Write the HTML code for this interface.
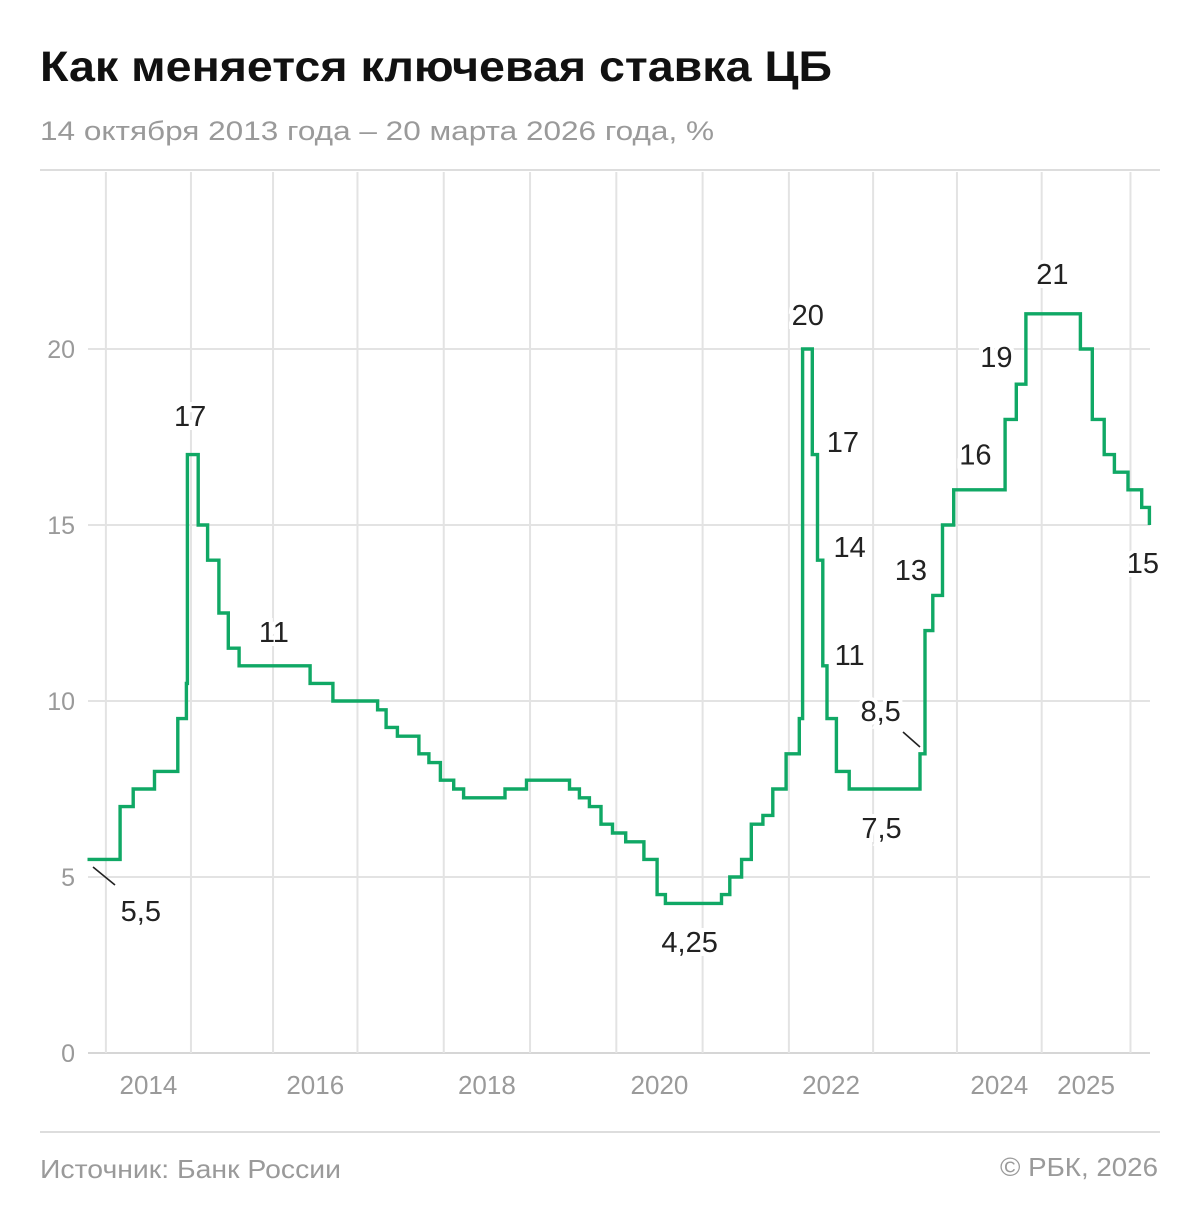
<!DOCTYPE html>
<html><head><meta charset="utf-8">
<style>
body{margin:0;background:#fff;width:1200px;height:1225px;overflow:hidden;font-family:"Liberation Sans",sans-serif}
svg{position:absolute;left:0;top:0}
</style></head>
<body>
<svg id="chart" width="1200" height="1225">
<text x="40" y="81" font-size="43" font-weight="bold" fill="#111" textLength="792" lengthAdjust="spacingAndGlyphs">Как меняется ключевая ставка ЦБ</text>
<text x="40" y="140" font-size="27" fill="#9a9a9a" textLength="674" lengthAdjust="spacingAndGlyphs">14 октября 2013 года – 20 марта 2026 года, %</text>
<line x1="40" x2="1160" y1="170" y2="170" stroke="#ddd" stroke-width="2"/>
<line x1="40" x2="1160" y1="1132" y2="1132" stroke="#ddd" stroke-width="2"/>
<g id="grid"></g><g id="ticks"></g><g id="line"></g><g id="labels"></g>
<text x="40" y="1178" font-size="26" fill="#9a9a9a" textLength="301" lengthAdjust="spacingAndGlyphs">Источник: Банк России</text>
<text x="1000" y="1176" font-size="26" fill="#9a9a9a" textLength="158" lengthAdjust="spacingAndGlyphs">© РБК, 2026</text>
</svg>
<script>
const dates=["2013-10-14","2014-03-03","2014-04-28","2014-07-28","2014-11-05","2014-12-12","2014-12-16","2015-02-02","2015-03-16","2015-05-05","2015-06-16","2015-08-03","2016-06-14","2016-09-19","2017-03-27","2017-05-02","2017-06-19","2017-09-18","2017-10-30","2017-12-18","2018-02-12","2018-03-26","2018-09-17","2018-12-17","2019-06-17","2019-07-29","2019-09-09","2019-10-28","2019-12-16","2020-02-10","2020-04-27","2020-06-22","2020-07-27","2021-03-22","2021-04-26","2021-06-15","2021-07-26","2021-09-13","2021-10-25","2021-12-20","2022-02-14","2022-02-28","2022-04-11","2022-05-04","2022-05-27","2022-06-14","2022-07-25","2022-09-19","2023-07-24","2023-08-15","2023-09-18","2023-10-30","2023-12-18","2024-07-29","2024-09-16","2024-10-28","2025-06-09","2025-07-28","2025-09-15","2025-10-27","2025-12-22","2026-02-16","2026-03-20"];
const rates=[5.5,7,7.5,8,9.5,10.5,17,15,14,12.5,11.5,11,10.5,10,9.75,9.25,9,8.5,8.25,7.75,7.5,7.25,7.5,7.75,7.5,7.25,7,6.5,6.25,6,5.5,4.5,4.25,4.5,5,5.5,6.5,6.75,7.5,8.5,9.5,20,17,14,11,9.5,8,7.5,8.5,12,13,15,16,18,19,21,20,18,17,16.5,16,15.5,15];
const endDate="2026-03-20";
const yTicks=[0,5,10,15,20];
const gridYears=[2014,2015,2016,2017,2018,2019,2020,2021,2022,2023,2024,2025,2026];
const yearLabels=[2014,2016,2018,2020,2022,2024,2025];
const annText=["17","11","5,5","4,25","20","17","14","11","8,5","7,5","13","16","19","21","15"];
const annYear=[2014.99,2016.01,2014.41,2020.85,2022.22,2022.64,2022.72,2022.72,2023.09,2023.10,2023.45,2024.22,2024.47,2025.12,2026.14];
const annVal=[18.1,11.96,4.03,3.15,20.97,17.36,14.37,11.3,9.72,6.39,13.72,17.0,19.77,22.13,13.92];
const svgNS="http://www.w3.org/2000/svg";
// piecewise time scale (chart's axis is slightly non-uniform)
const scaleT=[2013.79,2014.96,2016.45,2022.16,2024.82,2026.22];
const scaleP=[88,187.7,310,802.7,1025.7,1150];
function yr(d){const t=new Date(d+"T00:00:00Z");const y=t.getUTCFullYear();const s=Date.UTC(y,0,1),e=Date.UTC(y+1,0,1);return y+(t-s)/(e-s);}
function X(v){let i=0;while(i<scaleT.length-2&&v>scaleT[i+1])i++;return scaleP[i]+(v-scaleT[i])*(scaleP[i+1]-scaleP[i])/(scaleT[i+1]-scaleT[i]);}
function Y(v){return 1053-35.2*v;}
function mk(tag,attrs,parent){const e=document.createElementNS(svgNS,tag);for(const k in attrs)e.setAttribute(k,attrs[k]);document.getElementById(parent).appendChild(e);return e;}
yTicks.forEach(v=>{
 const l=mk("line",{x1:88,x2:1150,y1:Y(v),y2:Y(v),stroke:v===0?"#d6d6d6":"#e3e3e3","stroke-width":2},"grid");
 
 
 const t=mk("text",{x:75,y:Y(v)+9,"font-size":25,fill:"#9a9a9a","text-anchor":"end"},"ticks");t.textContent=v;
 
 
});
gridYears.forEach(g=>{
 const l=mk("line",{x1:X(g),x2:X(g),y1:172,y2:1053,stroke:"#e3e3e3","stroke-width":2},"grid");
 
 
});
yearLabels.forEach(g=>{
 const t=mk("text",{x:(X(g)+X(g+1))/2,y:1094,"font-size":26,fill:"#9a9a9a","text-anchor":"middle"},"ticks");t.textContent=g;
 
 
});
let d="";
dates.forEach((dt,i)=>{const x=X(yr(dt)),y=Y(rates[i]);d+=(i===0?"M"+x.toFixed(1)+","+y:"H"+x.toFixed(1)+"V"+y);});
d+="H"+X(yr(endDate)).toFixed(1);
const p=mk("path",{d:d,fill:"none",stroke:"#10a865","stroke-width":3.4},"line");


annText.forEach((s,i)=>{
 const t=mk("text",{x:X(annYear[i]),y:Y(annVal[i])+10,"font-size":29,fill:"#222","text-anchor":"middle",stroke:"#fff","stroke-width":8,"paint-order":"stroke"},"labels");t.textContent=s;
 
 
});
const l1=mk("line",{x1:93,y1:867,x2:115,y2:885,stroke:"#222","stroke-width":1.6},"labels");


const l2=mk("line",{x1:903,y1:732,x2:920,y2:747,stroke:"#222","stroke-width":1.6},"labels");


</script>
</body></html>
